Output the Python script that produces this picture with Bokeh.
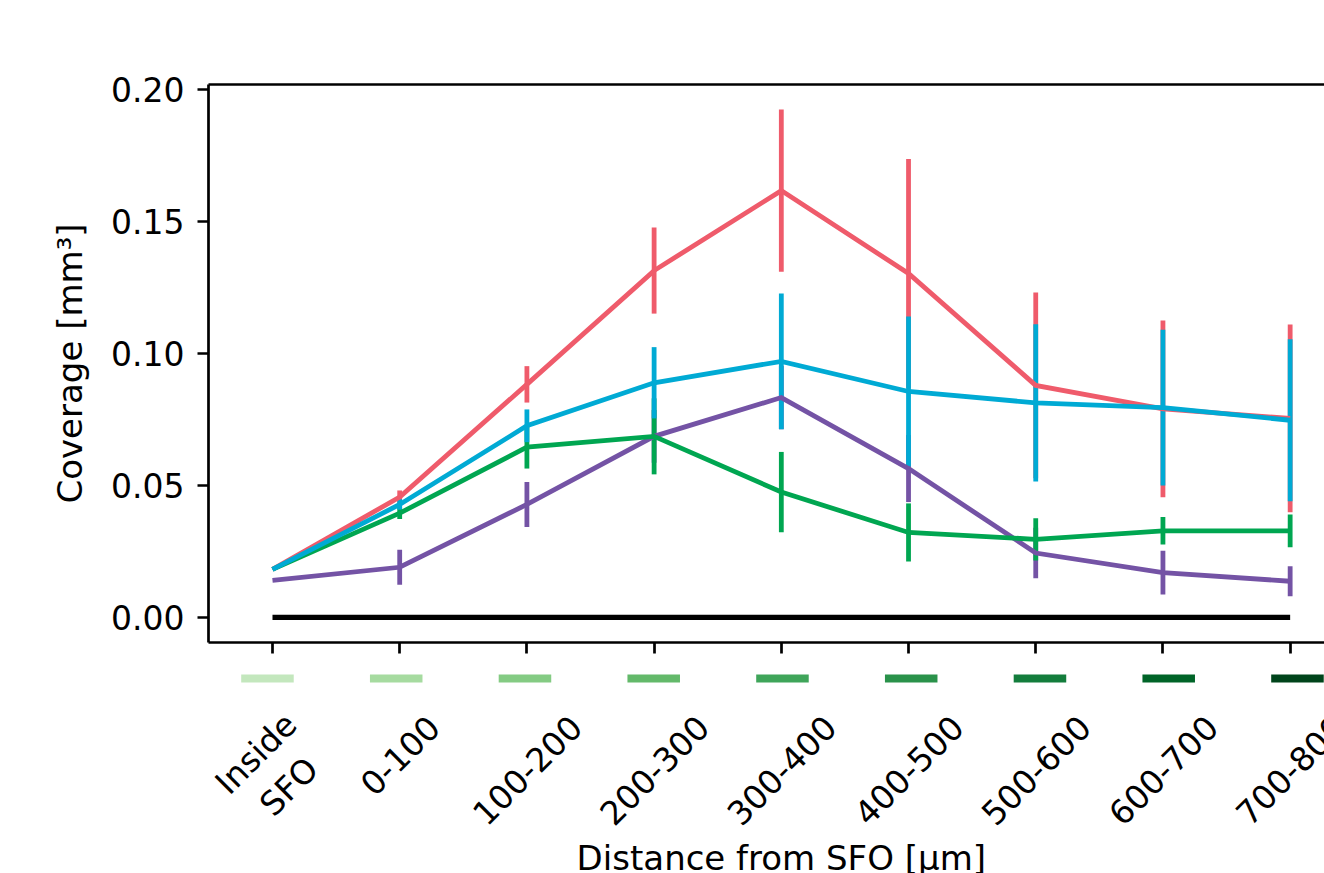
import math
from bokeh.plotting import figure
from bokeh.models import Range1d, FixedTicker, PrintfTickFormatter, LinearAxis
from bokeh.layouts import column
from bokeh.core.properties import value
from bokeh.embed import file_html
from bokeh.resources import INLINE

# ---------------- data ----------------
categories = ["Inside\nSFO", "0-100", "100-200", "200-300", "300-400",
              "400-500", "500-600", "600-700", "700-800"]
x_idx = list(range(len(categories)))

red_mean = [0.0182, 0.0456, 0.0883, 0.1314, 0.1617, 0.1303, 0.0879, 0.0790, 0.0754]
red_err = [0.0, 0.0025, 0.0069, 0.0163, 0.0307, 0.0434, 0.0352, 0.0335, 0.0356]

blue_mean = [0.0182, 0.0428, 0.0726, 0.0889, 0.0970, 0.0856, 0.0813, 0.0795, 0.0747]
blue_err = [0.0, 0.0020, 0.0062, 0.0135, 0.0257, 0.0284, 0.0298, 0.0295, 0.0307]

green_mean = [0.0182, 0.0395, 0.0645, 0.0686, 0.0475, 0.0322, 0.0296, 0.0328, 0.0328]
green_err = [0.0, 0.0022, 0.0081, 0.0144, 0.0152, 0.0110, 0.0080, 0.0052, 0.0062]

purple_mean = [0.0140, 0.0190, 0.0428, 0.0686, 0.0833, 0.0564, 0.0244, 0.0170, 0.0137]
purple_err = [0.0, 0.0066, 0.0085, 0.0100, 0.0120, 0.0127, 0.0096, 0.0083, 0.0057]

baseline = [0.0] * len(categories)

y_ticks = [0.0, 0.05, 0.10, 0.15, 0.20]

band_colors = ["#c3e7bd", "#a6dba0", "#84cb83", "#63b96a", "#3fa55a",
               "#2a924a", "#137d3c", "#006428", "#00441b"]

y_label = "Coverage [mm³]"
x_label = "Distance from SFO [μm]"

# ---------------- style ----------------
FONT = "DejaVu Sans"
FS = 33
FS_LAB = 34
RED, BLUE, GREEN, PURPLE = "#ef5b6b", "#00aad4", "#00a651", "#7453a5"
LW = 4.8
SPINE = 2.7

series = [(purple_mean, purple_err, PURPLE),
          (red_mean, red_err, RED),
          (green_mean, green_err, GREEN),
          (blue_mean, blue_err, BLUE)]

x_range = Range1d(-0.503, 8.27)

p = figure(width=1324, height=656, x_range=x_range, y_range=Range1d(-0.0095, 0.2019),
           output_backend="svg", toolbar_location=None,
           min_border_left=208, min_border_right=0, min_border_top=84, min_border_bottom=14)
p.outline_line_color = None
p.grid.visible = False
p.title.visible = False

# y axis
p.yaxis.ticker = FixedTicker(ticks=y_ticks)
p.yaxis.formatter = PrintfTickFormatter(format="%.2f")
p.yaxis.axis_label = y_label
for ax in p.yaxis:
    ax.axis_line_width = SPINE
    ax.axis_line_color = "black"
    ax.major_tick_line_width = SPINE
    ax.major_tick_out = 11
    ax.major_tick_in = 0
    ax.minor_tick_line_color = None
    ax.major_label_text_font = FONT
    ax.major_label_text_font_size = f"{FS}px"
    ax.major_label_text_color = "black"
    ax.major_label_standoff = 13
    ax.axis_label_text_font = FONT
    ax.axis_label_text_font_size = f"{FS_LAB}px"
    ax.axis_label_text_font_style = "normal"
    ax.axis_label_text_color = "black"
    ax.axis_label_standoff = 18

# x axis (ticks only; labels drawn in the strip below)
p.xaxis.ticker = FixedTicker(ticks=x_idx)
for ax in p.xaxis:
    ax.axis_line_width = SPINE
    ax.axis_line_color = "black"
    ax.major_tick_line_width = SPINE
    ax.major_tick_out = 11
    ax.major_tick_in = 0
    ax.minor_tick_line_color = None
    ax.major_label_text_font_size = "1px"
    ax.major_label_text_color = None
    ax.major_label_standoff = 0

top = LinearAxis(ticker=FixedTicker(ticks=[]), axis_line_width=SPINE, axis_line_color="black",
                 major_tick_line_color=None, minor_tick_line_color=None,
                 major_label_text_font_size="1px", major_label_text_color=None,
                 major_label_standoff=0)
p.add_layout(top, "above")

# zero line
p.line(x_idx, baseline, line_color="black", line_width=5.3)

# error bars (beneath all lines)
for mean, err, col in series:
    lo = [m - e for m, e in zip(mean, err)]
    hi = [m + e for m, e in zip(mean, err)]
    p.segment(x0=x_idx, y0=lo, x1=x_idx, y1=hi, line_color=col, line_width=LW)

for mean, err, col in series:
    p.line(x_idx, mean, line_color=col, line_width=LW, line_join="miter")

# ---------------- lower strip: colour bands + rotated labels ----------------
p2 = figure(width=1324, height=217, x_range=x_range, y_range=Range1d(-217, 0),
            output_backend="svg", toolbar_location=None,
            x_axis_location=None, y_axis_location=None,
            min_border_left=208, min_border_right=0, min_border_top=0, min_border_bottom=0)
p2.outline_line_color = None
p2.grid.visible = False
p2.title.visible = False
p2.extra_x_ranges = {"band": Range1d(-0.458, 8.21)}

DASH_Y = -22
LABEL_TOP = -56
XLABEL_Y = -201

p2.rect(x=x_idx, y=[DASH_Y] * len(x_idx), width=0.408, height=8, height_units="screen",
        fill_color=band_colors, line_color=None, x_range_name="band")

cw = {"-": 0.361, "I": 0.295, "n": 0.634, "s": 0.521, "i": 0.278, "d": 0.635,
      "e": 0.615, "S": 0.635, "F": 0.575, "O": 0.787}
def text_w(s):
    return sum(cw.get(c, 0.636) for c in s) * FS

offs = []
for lab in categories:
    lines = lab.split("\n")
    L = max(text_w(l) for l in lines)
    H = (len(lines) - 1) * 1.2 * FS + 0.745 * FS
    offs.append((L + H) / (2 * math.sqrt(2)))

p2.text(x=x_idx, y=[LABEL_TOP] * len(x_idx), text=categories, angle=math.pi / 4,
        y_offset=offs, text_align="center", text_baseline="middle",
        text_font=value(FONT), text_font_size=f"{FS}px", text_color="black",
        text_line_height=1.2)

p2.text(x=[(len(categories) - 1) / 2], y=[XLABEL_Y], text=[x_label],
        text_align="center", text_baseline="alphabetic",
        text_font=value(FONT), text_font_size=f"{FS_LAB}px", text_color="black")

layout = column(p, p2, spacing=0)
open("out.html", "w").write(file_html(layout, INLINE))
